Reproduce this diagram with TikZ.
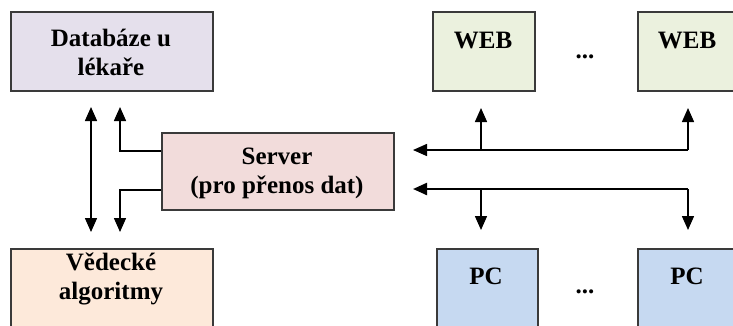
\documentclass[tikz,border=0pt]{standalone}
\usepackage{fontspec}
\setmainfont{Liberation Serif}
\usetikzlibrary{arrows.meta,calc}
\definecolor{cdb}{HTML}{E5E0EC}
\definecolor{cved}{HTML}{FDE9DA}
\definecolor{csrv}{HTML}{F2DCDB}
\definecolor{cweb}{HTML}{EBF1DE}
\definecolor{cpc}{HTML}{C6D9F1}
\definecolor{cedge}{HTML}{3A3A3A}
\begin{document}
\begin{tikzpicture}[x=1pt,y=-1pt,
  box/.style={draw=cedge,line width=1.8pt,anchor=north west,inner sep=0pt},
  lbl/.style={font=\fontsize{25}{29}\selectfont\bfseries,align=center,inner sep=0pt},
  arr/.style={line width=1.5pt,-{Triangle[width=12pt,length=14pt]}},
  darr/.style={line width=1.5pt,{Triangle[width=12pt,length=14pt]}-{Triangle[width=12pt,length=14pt]}},
  barr/.style={line width=2.2pt,-{Triangle[width=12pt,length=14pt]}}]
\useasboundingbox (0,0) rectangle (733,325);
\fill[white] (0,0) rectangle (733,325);
% boxes
\node[box,fill=cdb,minimum width=202pt,minimum height=79pt] (db) at (10,11) {};
\node[box,fill=cved,minimum width=202pt,minimum height=90pt] (ved) at (10,248) {};
\node[box,fill=csrv,minimum width=232pt,minimum height=77pt] (srv) at (161,132) {};
\node[box,fill=cweb,minimum width=102pt,minimum height=79pt] (web1) at (432,11) {};
\node[box,fill=cweb,minimum width=102pt,minimum height=79pt] (web2) at (637,11) {};
\node[box,fill=cpc,minimum width=101pt,minimum height=90pt] (pc1) at (436,248) {};
\node[box,fill=cpc,minimum width=101pt,minimum height=90pt] (pc2) at (637,248) {};
% labels
\node[lbl] (tdb) at (111,52) {Databáze u\\lékaře};
\node[lbl] (tved) at (111,279) {Vědecké\\algoritmy};
\node[lbl] (tsrv) at (277,173) {Server\\(pro přenos dat)};
\node[lbl] (tweb1) at (483,40) {WEB};
\node[lbl] (tweb2) at (687,40) {WEB};
\node[lbl] (tpc1) at (486,276) {PC};
\node[lbl] (tpc2) at (687,276) {PC};
\node[lbl] (dots1) at (585,57) {...};
\node[lbl] (dots2) at (585,292) {...};
% coordinates
\coordinate (a1) at (91,107);
\coordinate (a2) at (91,232);
\coordinate (s1) at ($(srv.west)+(0,-20.5)$);
\coordinate (s2) at ($(srv.west)+(0,18.5)$);
\coordinate (l1) at (120,107);
\coordinate (l2) at (120,232);
\coordinate (r1) at (413,150);
\coordinate (r2) at (413,189);
\coordinate (w1) at (481,108);
\coordinate (w2) at (688,108);
\coordinate (p1) at (481,230);
\coordinate (p2) at (688,230);
% connectors
\draw[darr] (a1) -- (a2);
\draw[arr] (s1) -| (l1);
\draw[arr] (s2) -| (l2);
\draw[arr] (w2 |- r1) -- (r1);
\draw[arr] (w1 |- r1) -- (w1);
\draw[arr] (w2 |- r1) -- (w2);
\draw[barr] (p2 |- r2) -- (r2);
\draw[arr] (p1 |- r2) -- (p1);
\draw[arr] (p2 |- r2) -- (p2);
\end{tikzpicture}
\end{document}
